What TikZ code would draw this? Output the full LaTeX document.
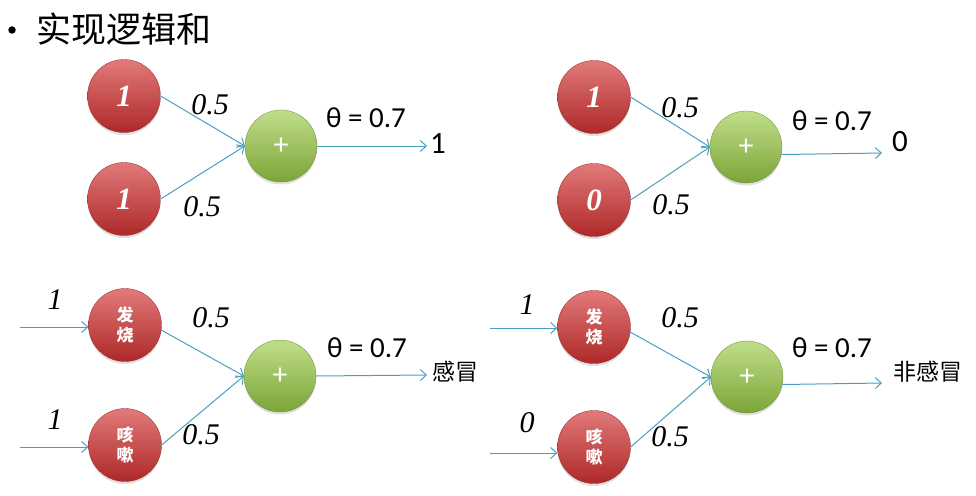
\documentclass[tikz,border=0pt]{standalone}
\usepackage{fontspec}
\setmainfont{Liberation Serif}
\newfontfamily\tnr{Liberation Serif}
\newfontfamily\cjk{Noto Sans CJK SC}
\newfontfamily\calib{Carlito}
\usetikzlibrary{arrows.meta,shadows}
\definecolor{redtop}{HTML}{E27A7A}
\definecolor{redbot}{HTML}{AE2828}
\definecolor{greentop}{HTML}{C0DE8A}
\definecolor{greenbot}{HTML}{7CA538}
\definecolor{linkc}{HTML}{4A9FC0}
\tikzset{
  rednode/.style={circle, minimum size=73pt, inner sep=0pt, top color=redtop, bottom color=redbot,
    draw=redbot!85!black, line width=0.3pt, text=white,
    drop shadow={opacity=0.25, shadow xshift=0pt, shadow yshift=-2.5pt}},
  greennode/.style={circle, minimum size=72pt, inner sep=0pt, top color=greentop, bottom color=greenbot,
    draw=greenbot!85!black, line width=0.3pt, text=white,
    font=\calib\fontsize{30}{30}\selectfont,
    drop shadow={opacity=0.25, shadow xshift=0pt, shadow yshift=-2.5pt}},
  numin/.style={font=\tnr\fontsize{31}{31}\selectfont\bfseries\itshape},
  cnin/.style={font=\cjk\bfseries\fontsize{17}{20}\selectfont, align=center},
  link/.style={draw=linkc, line width=1pt, -{Straight Barb[length=6pt,width=11pt]}},
  wlabel/.style={font=\tnr\fontsize{30}{30}\selectfont\itshape, inner sep=0pt},
  thlabel/.style={font=\calib\fontsize{29}{29}\selectfont, inner sep=0pt},
  outlabel/.style={font=\calib\fontsize{31}{31}\selectfont, inner sep=0pt, anchor=west},
  cnout/.style={font=\cjk\fontsize{23}{23}\selectfont, inner sep=0pt, anchor=west},
}
\begin{document}
\begin{tikzpicture}[x=1pt,y=-1pt]
\useasboundingbox (0,0) rectangle (976,495);
% title
\node[circle, fill=black, minimum size=7.5pt, inner sep=0pt] (bullet) at (12,30) {};
\node[font=\cjk\fontsize{35}{35}\selectfont, anchor=west, inner sep=0pt] (title) at (36,29) {实现逻辑和};

% ---- top left ----
\node[rednode, numin] (a1) at (124,96) {1};
\node[rednode, numin] (a2) at (124,199) {1};
\node[greennode] (ag) at (281,146) {+};
\coordinate (ao) at (427,146);
\draw[link] (a1.east) -- (ag.west);
\draw[link] (a2.east) -- (ag.west);
\draw[link] (ag.east) -- (ao);
\node[wlabel] (aw1) at (210,105) {0.5};
\node[wlabel] (aw2) at (202,207) {0.5};
\node[thlabel] (ath) at (366,118) {θ = 0.7};
\node[outlabel] (aout) at (430,144) {1};

% ---- top right ----
\node[rednode, numin] (b1) at (594,97) {1};
\node[rednode, numin] (b2) at (594,200) {0};
\node[greennode] (bg) at (746,147) {+};
\coordinate (bo) at (882,153);
\draw[link] (b1.east) -- (bg.west);
\draw[link] (b2.east) -- (bg.west);
\draw[link] (bg.-12) -- (bo);
\node[wlabel] (bw1) at (680,108) {0.5};
\node[wlabel] (bw2) at (671,205) {0.5};
\node[thlabel] (bth) at (832,121) {θ = 0.7};
\node[outlabel] (bout) at (892,142) {0};

% ---- bottom left ----
\node[rednode, cnin] (c1) at (125,325) {发\\烧};
\node[rednode, cnin] (c2) at (125,445) {咳\\嗽};
\node[greennode] (cg) at (280,376) {+};
\coordinate (ci1) at (20,327);
\coordinate (ci2) at (20,447);
\coordinate (co) at (427,375);
\draw[link] (ci1) -- (c1.west |- ci1);
\draw[link] (ci2) -- (c2.west |- ci2);
\draw[link] (c1.-8) -- (cg.west);
\draw[link] (c2.east) -- (cg.west);
\draw[link] (cg.east) -- (co);
\node[wlabel] (cx1) at (55,300) {1};
\node[wlabel] (cx2) at (55,420) {1};
\node[wlabel] (cw1) at (211,318) {0.5};
\node[wlabel] (cw2) at (201,435) {0.5};
\node[thlabel] (cth) at (367,348) {θ = 0.7};
\node[cnout] (cout) at (432,372) {感冒};

% ---- bottom right ----
\node[rednode, cnin] (d1) at (594,327) {发\\烧};
\node[rednode, cnin] (d2) at (594,447) {咳\\嗽};
\node[greennode] (dg) at (747,377) {+};
\coordinate (di1) at (490,328);
\coordinate (di2) at (490,453);
\coordinate (do) at (882,383);
\draw[link] (di1) -- (d1.west |- di1);
\draw[link] (di2) -- (d2.west |- di2);
\draw[link] (d1.-8) -- (dg.west);
\draw[link] (d2.east) -- (dg.west);
\draw[link] (dg.-12) -- (do);
\node[wlabel] (dx1) at (527,305) {1};
\node[wlabel] (dx2) at (527,423) {0};
\node[wlabel] (dw1) at (680,318) {0.5};
\node[wlabel] (dw2) at (670,437) {0.5};
\node[thlabel] (dth) at (832,348) {θ = 0.7};
\node[cnout] (dout) at (893,372) {非感冒};
\end{tikzpicture}
\end{document}
